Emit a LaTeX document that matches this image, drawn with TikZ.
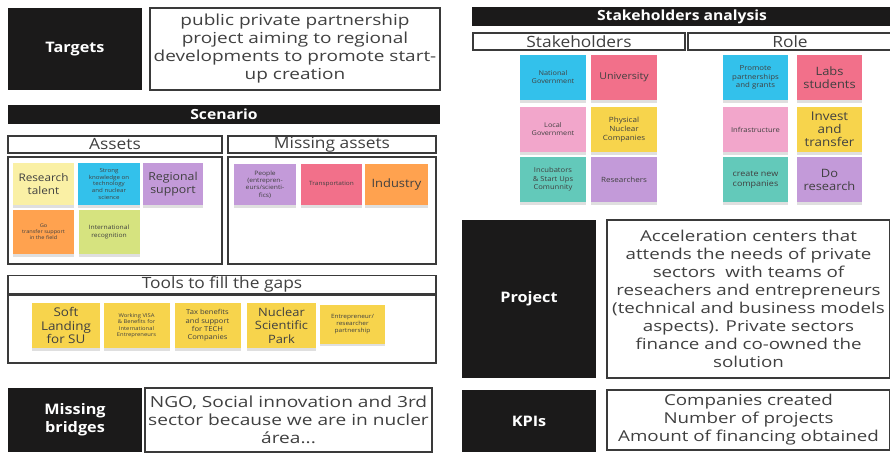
\documentclass[tikz,border=0pt]{standalone}
\usepackage{fontspec}
\setmainfont[FakeStretch=1.12]{Open Sans}
\newfontfamily\widefont[FakeStretch=1.25]{Open Sans}
\usetikzlibrary{shadows}

\definecolor{boxblack}{HTML}{1B1A1A}
\definecolor{linegray}{HTML}{3A3A3A}
\definecolor{txtgray}{HTML}{404040}
\definecolor{notecyan}{HTML}{33C1EB}
\definecolor{notered}{HTML}{F2708A}
\definecolor{notepink}{HTML}{F2A6CB}
\definecolor{noteyellow}{HTML}{F7D44C}
\definecolor{notepale}{HTML}{FAF0A5}
\definecolor{notepurple}{HTML}{C39AD9}
\definecolor{noteorange}{HTML}{FFA24F}
\definecolor{notelime}{HTML}{D6E37F}
\definecolor{noteteal}{HTML}{63C9BA}

\newcommand{\fs}[1]{\fontsize{#1}{1.22\dimexpr#1pt\relax}\selectfont}

\begin{document}
\begin{tikzpicture}[
      x = 1pt, y = -1pt,
      every node/.style = {
        inner sep = 1pt, align = center, text = txtgray},
      size/.style 2 args = {minimum width = #1pt, minimum height = #2pt},
      darkbox/.style = {
        fill = boxblack, text = white, font = \bfseries\fontsize{14.5}{18}\selectfont},
      textbox/.style = {
        draw = linegray, line width = 1.4pt, fill = white,
        font = \widefont\fontsize{15.2}{18}\selectfont},
      bar/.style = {
        fill = boxblack, text = white, font = \bfseries\fontsize{14}{15}\selectfont},
      header/.style = {
        draw = linegray, line width = 1.4pt, fill = white,
        font = \fontsize{15.5}{16}\selectfont},
      panel/.style = {draw = linegray, line width = 1.4pt},
      note/.style = {
        drop shadow = {shadow xshift = 0pt, shadow yshift = -2.5pt, opacity = .25},
        font = \fs{5.5}}
      ]
    \useasboundingbox[fill = white] (0,0) rectangle (890,452);
    % left column
    \node[darkbox, size = {134}{82}] (targets) at (75,49) {Targets}; % 0
    \node[textbox, size = {290}{82}] (targetsText) at (295,49)
      {public private partnership\\project aiming to regional\\developments to promote start-\\up creation}; % 1
    \node[bar, size = {432}{19}] (scenario) at (224,114.5) {Scenario}; % 2
    \node[header, size = {214}{17}] (assets) at (115,144.5) {Assets}; % 3
    \node[header, size = {208}{17}] (missing) at (332,144.5) {Missing assets}; % 4
    \node[panel, size = {214}{107}] (assetsPanel) at (115,210.5) {}; % 5
    \node[panel, size = {208}{107}] (missingPanel) at (332,210.5) {}; % 6
    \node[note, fill = notepale, size = {61}{42}, font = \fs{10.5}] (talent) at (43.5,184) {Research\\talent};
    \node[note, fill = notecyan, size = {62}{42}] (strong) at (109,184)
      {Strong\\knowledge on\\technology\\and nuclear\\science};
    \node[note, fill = notepurple, size = {60}{42}, font = \fs{11}] (regional) at (173,184) {Regional\\support};
    \node[note, fill = noteorange, size = {61}{44}, font = \fs{5}] (transfer) at (43.5,232)
      {Go\\transfer support\\in the field};
    \node[note, fill = notelime, size = {61}{44}, font = \fs{6}] (recognition) at (109,232)
      {International\\recognition};
    \node[note, fill = notepurple, size = {62}{41}, font = \fs{6}] (people) at (265,184.5)
      {People\\(entrepren-\\eurs/scienti-\\fics)};
    \node[note, fill = notered, size = {61}{41}, font = \fs{5.8}] (transport) at (331.5,184.5) {Transportation};
    \node[note, fill = noteorange, size = {63}{41}, font = \fs{11.5}] (industry) at (396.5,184.5) {Industry};
    \node[header, size = {428}{17}] (tools) at (222,284.5) {Tools to fill the gaps}; % 7
    \node[panel, size = {428}{68}] (toolsPanel) at (222,329) {}; % 8
    \node[note, fill = noteyellow, size = {68}{45}, font = \fontsize{12}{13.5}\selectfont] (soft) at (66,325.5) {Soft\\Landing\\for SU};
    \node[note, fill = noteyellow, size = {66}{45}, font = \fs{5.2}] (visa) at (136.5,325.5)
      {Working VISA\\\& Benefits for\\International\\Entrepreneurs};
    \node[note, fill = noteyellow, size = {66}{45}, font = \fontsize{6.8}{8.3}\selectfont] (tax) at (207.5,325.5)
      {Tax benefits\\and support\\for TECH\\Companies};
    \node[note, fill = noteyellow, size = {69}{45}, font = \fontsize{11.5}{13.5}\selectfont] (park) at (281.5,325.5) {Nuclear\\Scientific\\Park};
    \node[note, fill = noteyellow, size = {65}{39}, font = \fs{5.8}] (partner) at (352.5,324)
      {Entrepreneur/\\researcher\\partnership};
    \node[darkbox, size = {134}{64}] (bridges) at (75,420) {Missing\\bridges}; % 9
    \node[textbox, size = {287}{64}, font = \widefont\fontsize{15.3}{18}\selectfont] (bridgesText) at (288.5,420)
      {NGO, Social innovation and 3rd\\sector because we are in nucler\\área...}; % 10
    % right column
    \node[bar, size = {420}{19}] (analysis) at (682,16.5) {Stakeholders analysis}; % 11
    \node[header, size = {212}{17}] (stakeholders) at (579,41.5) {Stakeholders}; % 12
    \node[header, size = {204}{17}] (role) at (790,41.5) {Role}; % 13
    \node[note, fill = notecyan, size = {66}{45}, font = \fs{6.5}] (national) at (553,77.5) {National\\Government};
    \node[note, fill = notered, size = {66}{45}, font = \fs{9.5}] (university) at (624,77.5) {University};
    \node[note, fill = notepink, size = {66}{45}, font = \fs{6.5}] (local) at (553,129.5) {Local\\Government};
    \node[note, fill = noteyellow, size = {66}{45}, font = \fs{7.2}] (physical) at (624,129.5) {Physical\\Nuclear\\Companies};
    \node[note, fill = noteteal, size = {66}{45}, font = \fs{6.8}] (incubators) at (553,179.5) {Incubators\\\& Start Ups\\Comunnity};
    \node[note, fill = notepurple, size = {66}{45}, font = \fs{7.2}] (researchers) at (624,179.5) {Researchers};
    \node[note, fill = notecyan, size = {65}{45}, font = \fs{7}] (promote) at (755.5,77.5) {Promote\\partnerships\\and grants};
    \node[note, fill = notered, size = {65}{45}, font = \fontsize{11.5}{13}\selectfont] (labs) at (829.5,77.5) {Labs\\students};
    \node[note, fill = notepink, size = {65}{45}, font = \fs{6.8}] (infra) at (755.5,129.5) {Infrastructure};
    \node[note, fill = noteyellow, size = {65}{45}, font = \fontsize{12}{13}\selectfont] (invest) at (829.5,129.5) {Invest\\and\\transfer};
    \node[note, fill = noteteal, size = {65}{45}, font = \fs{8}] (create) at (755.5,179.5) {create new\\companies};
    \node[note, fill = notepurple, size = {65}{45}, font = \fontsize{11.5}{13}\selectfont] (research) at (829.5,179.5) {Do\\research};
    \node[darkbox, size = {134}{158}] (project) at (529,299) {Project}; % 14
    \node[textbox, size = {283}{158}, font = \widefont\fontsize{15}{18}\selectfont] (projectText) at (748.5,299)
      {Acceleration centers that\\attends the needs of private\\sectors\ \ with teams of\\reseachers and entrepreneurs\\(technical and business models\\aspects). Private sectors\\finance and co-owned the\\solution}; % 15
    \node[darkbox, size = {134}{62}] (kpis) at (529,421) {KPIs}; % 16
    \node[textbox, size = {283}{60}, font = \widefont\fontsize{15}{18}\selectfont] (kpisText) at (748.5,420)
      {Companies created\\Number of projects\\Amount of financing obtained}; % 17
  \end{tikzpicture}
\end{document}
